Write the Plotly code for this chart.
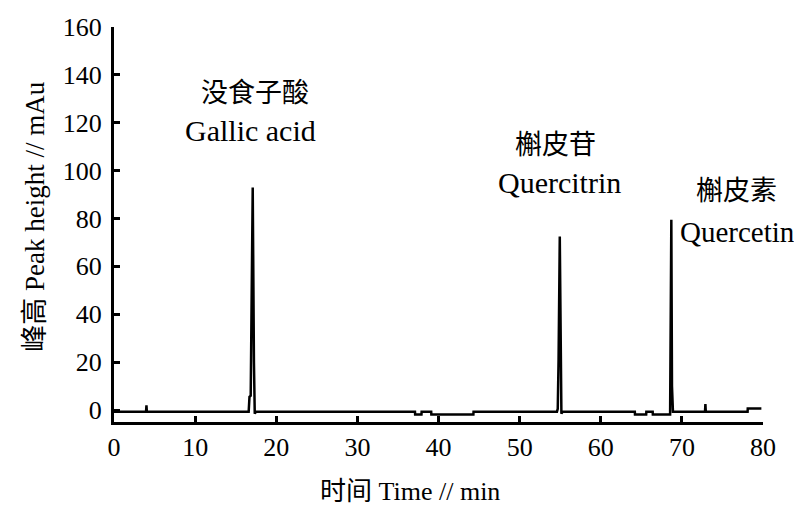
import plotly.graph_objects as go

# Chromatogram trace (time in min, peak height in mAu)
time_min = [0, 3.95, 4.0, 4.05, 16.6, 16.7, 16.85, 17.1, 17.25, 17.35, 17.5,
            37.1, 37.12, 37.9, 37.92, 39.1, 39.12, 44.3, 44.32,
            54.6, 54.7, 54.8, 54.95, 55.05, 55.15, 55.3,
            64.2, 64.22, 65.6, 65.62, 66.4, 66.42, 68.55, 68.7, 68.78, 68.9,
            72.85, 72.9, 72.95, 78.1, 78.12, 79.8]
peak_mau = [-0.7, -0.7, 2.0, -0.7, -0.7, 5.5, 6.0, 93.0, 20.0, -1.5, -0.7,
            -0.7, -1.9, -1.9, -0.7, -0.7, -1.9, -1.9, -0.7,
            -0.7, 0.5, 21.0, 72.5, 17.5, -1.5, -0.7,
            -0.7, -1.9, -1.9, -0.7, -0.7, -1.9, -1.9, 79.5, 10.0, -0.7,
            -0.7, 2.5, -0.7, -0.7, 0.6, 0.6]

# Peak labels
label_cn = ["没食子酸", "槲皮苷", "槲皮素"]
label_en = ["Gallic acid", "Quercitrin", "Quercetin"]
label_x_cn = [17.4, 54.4, 76.7]
label_y_cn = [133.5, 111.7, 92.5]
label_x_en = [16.8, 54.9, 76.85]
label_y_en = [116.7, 95.0, 74.5]
label_size_en = [30, 30, 29]

x_ticks = [0, 10, 20, 30, 40, 50, 60, 70, 80]
y_ticks = [0, 20, 40, 60, 80, 100, 120, 140, 160]

x_title = "时间 Time // min"
y_title = "峰高 Peak height // mAu"

FONT = "Liberation Serif, Noto Sans CJK SC, serif"

fig = go.Figure()
fig.add_trace(go.Scatter(x=time_min, y=peak_mau, mode="lines",
                         line=dict(color="black", width=2.5), showlegend=False,
                         cliponaxis=False))

for xs, ys, t in zip(label_x_cn, label_y_cn, label_cn):
    fig.add_annotation(x=xs, y=ys, text=t, showarrow=False, xref="x", yref="y",
                       font=dict(family="Noto Sans CJK SC", size=27, color="black"))
for xs, ys, t, s in zip(label_x_en, label_y_en, label_en, label_size_en):
    fig.add_annotation(x=xs, y=ys, text=t, showarrow=False, xref="x", yref="y",
                       font=dict(family=FONT, size=s, color="black"))

# axis titles
fig.add_annotation(x=0.456, y=-0.177, xref="paper", yref="paper", text=x_title,
                   showarrow=False, xanchor="center", yanchor="middle",
                   font=dict(family=FONT, size=26, color="black"))
fig.add_annotation(x=-0.122, y=0.519, xref="paper", yref="paper", text=y_title,
                   showarrow=False, textangle=-90, xanchor="center", yanchor="middle",
                   font=dict(family=FONT, size=27, color="black"))

# the page body adds an 8 px offset, so margins compensate for it
fig.update_layout(
    width=802, height=516,
    margin=dict(l=106, r=47, t=19, b=102),
    paper_bgcolor="white", plot_bgcolor="white",
    font=dict(family=FONT, size=26, color="black"),
    xaxis=dict(range=[0, 80], tickvals=x_ticks, ticks="inside", ticklen=6,
               tickwidth=2.5, tickcolor="black", showline=True, linewidth=3,
               linecolor="black", showgrid=False, zeroline=False,
               automargin=False),
    yaxis=dict(range=[-5, 160], tickvals=y_ticks, ticks="inside", ticklen=6,
               tickwidth=2.5, tickcolor="black", showline=True, linewidth=3,
               linecolor="black", showgrid=False, zeroline=False,
               automargin=False, ticklabelstandoff=4),
)

fig.write_html("out.html")
